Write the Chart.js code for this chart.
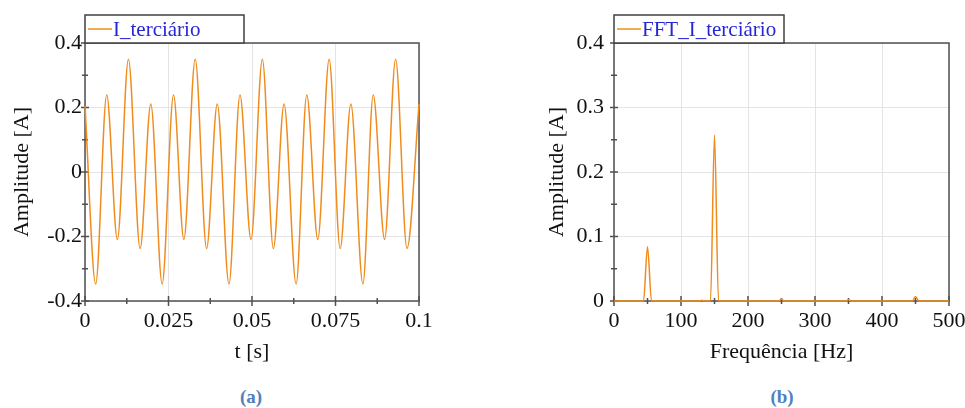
<!DOCTYPE html>
<html>
<head>
<meta charset="utf-8">
<script src="https://cdn.jsdelivr.net/npm/chart.js@4"></script>
<style>
  body { margin: 0; background: #fff; }
  #wrap { position: relative; width: 965px; height: 408px; overflow: hidden; }
  canvas { position: absolute; top: 0; }
  .cap { position: absolute; top: 386px; font: bold 19px "Liberation Serif", serif; color: #4f81bd; transform: translateX(-50%); }
</style>
</head>
<body>
<div id="wrap">
  <canvas id="cA" width="450" height="363" style="left:0"></canvas>
  <canvas id="cB" width="460" height="363" style="left:520px"></canvas>
  <div class="cap" style="left:251px">(a)</div>
  <div class="cap" style="left:782px">(b)</div>
</div>
<script>
// (a) time signal, extrema
const tSec = [0, 0.0032, 0.0065, 0.0097, 0.013, 0.0165, 0.0197, 0.0231, 0.0265, 0.0296,
  0.033, 0.0364, 0.0396, 0.0431, 0.0464, 0.0497, 0.0531, 0.0564, 0.0596, 0.0632,
  0.0664, 0.0697, 0.0731, 0.0764, 0.0796, 0.0832, 0.0863, 0.0897, 0.093, 0.0964, 0.1]
const iTerciario = [0.205, -0.347, 0.239, -0.209, 0.35, -0.237, 0.211, -0.347, 0.239, -0.209,
  0.35, -0.237, 0.211, -0.347, 0.239, -0.209, 0.35, -0.237, 0.211, -0.347,
  0.239, -0.209, 0.35, -0.237, 0.211, -0.347, 0.239, -0.209, 0.35, -0.237, 0.211]
const tTicks = [0, 0.025, 0.05, 0.075, 0.1]
const iTicks = [-0.4, -0.2, 0, 0.2, 0.4]

// (b) spectrum
const freqHz = [0, 44, 50, 56, 128, 131, 134, 144, 150, 156, 246, 250, 254, 346, 350, 354, 445, 450, 455, 500]
const fftAmp = [0, 0, 0.084, 0, 0, 0.001, 0, 0, 0.257, 0, 0, 0.003, 0, 0, 0.002, 0, 0, 0.007, 0, 0]
const fTicks = [0, 100, 200, 300, 400, 500]
const aTicks = [0, 0.1, 0.2, 0.3, 0.4]

const ORANGE = '#f08c1e'
const SERIF = '"Liberation Serif", "Times New Roman", serif'

// frame, crossing ticks and the boxed legend
const framePlugin = {
  id: 'frame',
  beforeDatasetsDraw(chart, args, opts) {
    const { ctx, chartArea: a, scales } = chart
    ctx.save()
    ctx.strokeStyle = '#505050'
    ctx.lineWidth = 1.5
    ctx.strokeRect(a.left, a.top, a.right - a.left, a.bottom - a.top)
    ctx.beginPath()
    const xs = scales.x, ys = scales.y
    xs.ticks.forEach((t, i) => {
      const p = xs.getPixelForValue(t.value)
      ctx.moveTo(p, a.bottom - 5); ctx.lineTo(p, a.bottom + 5)
      if (i < xs.ticks.length - 1) {
        const m = xs.getPixelForValue((t.value + xs.ticks[i + 1].value) / 2)
        ctx.moveTo(m, a.bottom - 3); ctx.lineTo(m, a.bottom + 3)
      }
    })
    ys.ticks.forEach((t, i) => {
      const p = ys.getPixelForValue(t.value)
      ctx.moveTo(a.left - 4, p); ctx.lineTo(a.left + 4, p)
      if (i < ys.ticks.length - 1) {
        const m = ys.getPixelForValue((t.value + ys.ticks[i + 1].value) / 2)
        ctx.moveTo(a.left - 3, m); ctx.lineTo(a.left + 3, m)
      }
    })
    ctx.stroke()
    ctx.restore()
  },
  afterDraw(chart, args, opts) {
    const { ctx, chartArea: a } = chart
    const ds = chart.data.datasets[0]
    ctx.save()
    ctx.fillStyle = '#fff'
    ctx.fillRect(a.left, 15, opts.width, a.top - 15)
    ctx.strokeStyle = '#404040'
    ctx.lineWidth = 1.5
    ctx.strokeRect(a.left, 15, opts.width, a.top - 15)
    ctx.strokeStyle = ORANGE
    ctx.lineWidth = 1.5
    ctx.beginPath()
    ctx.moveTo(a.left + 3, 29); ctx.lineTo(a.left + 27, 29)
    ctx.stroke()
    ctx.fillStyle = '#2626d6'
    ctx.font = '21px ' + SERIF
    ctx.textBaseline = 'middle'
    ctx.fillText(ds.label, a.left + 28, 30)
    ctx.restore()
  }
}

function fmt(v) { return String(Math.round(v * 1000) / 1000) }

function makeChart(id, label, xs, ys, xTicks, yTicks, xTitle, box) {
  const fixTicks = list => scale => { scale.ticks = list.map(v => ({ value: v })) }
  return new Chart(document.getElementById(id), {
    type: 'line',
    data: {
      datasets: [{
        label: label,
        data: xs.map((x, i) => ({ x: x, y: ys[i] })),
        borderColor: ORANGE,
        borderWidth: 1.5,
        pointRadius: 0,
        cubicInterpolationMode: 'monotone',
        clip: 3
      }]
    },
    options: {
      responsive: false,
      devicePixelRatio: 1,
      animation: false,
      layout: { padding: { top: 43, right: box.right, left: 0, bottom: 0 } },
      plugins: {
        legend: { display: false },
        tooltip: { enabled: false },
        frame: { width: box.legendW }
      },
      scales: {
        x: {
          type: 'linear',
          min: xTicks[0], max: xTicks[xTicks.length - 1],
          afterBuildTicks: fixTicks(xTicks),
          afterFit: s => { s.height = 62 },
          grid: { color: '#e4e4e4', drawTicks: false },
          border: { display: false },
          ticks: { padding: 7, color: '#111', maxRotation: 0, font: { family: SERIF, size: 22 }, callback: fmt },
          title: { display: true, text: xTitle, color: '#111', padding: 0, font: { family: SERIF, size: 22, lineHeight: 1 } }
        },
        y: {
          min: yTicks[0], max: yTicks[yTicks.length - 1],
          afterBuildTicks: fixTicks(yTicks),
          afterFit: s => { s.width = box.left },
          grid: { color: '#e4e4e4', drawTicks: false },
          border: { display: false },
          ticks: { padding: box.tickPad, color: '#111', font: { family: SERIF, size: 22 }, callback: fmt },
          title: { display: true, text: 'Amplitude [A]', color: '#111', padding: { top: box.titleX - 11, bottom: 0 }, font: { family: SERIF, size: 22, lineHeight: 1 } }
        }
      }
    },
    plugins: [framePlugin]
  })
}

makeChart('cA', 'I_terciário', tSec, iTerciario, tTicks, iTicks, 't [s]',
  { left: 85, right: 31, tickPad: 3, titleX: 22, legendW: 159 })
makeChart('cB', 'FFT_I_terciário', freqHz, fftAmp, fTicks, aTicks, 'Frequência [Hz]',
  { left: 94, right: 31, tickPad: 10, titleX: 37, legendW: 170 })
</script>
</body>
</html>
